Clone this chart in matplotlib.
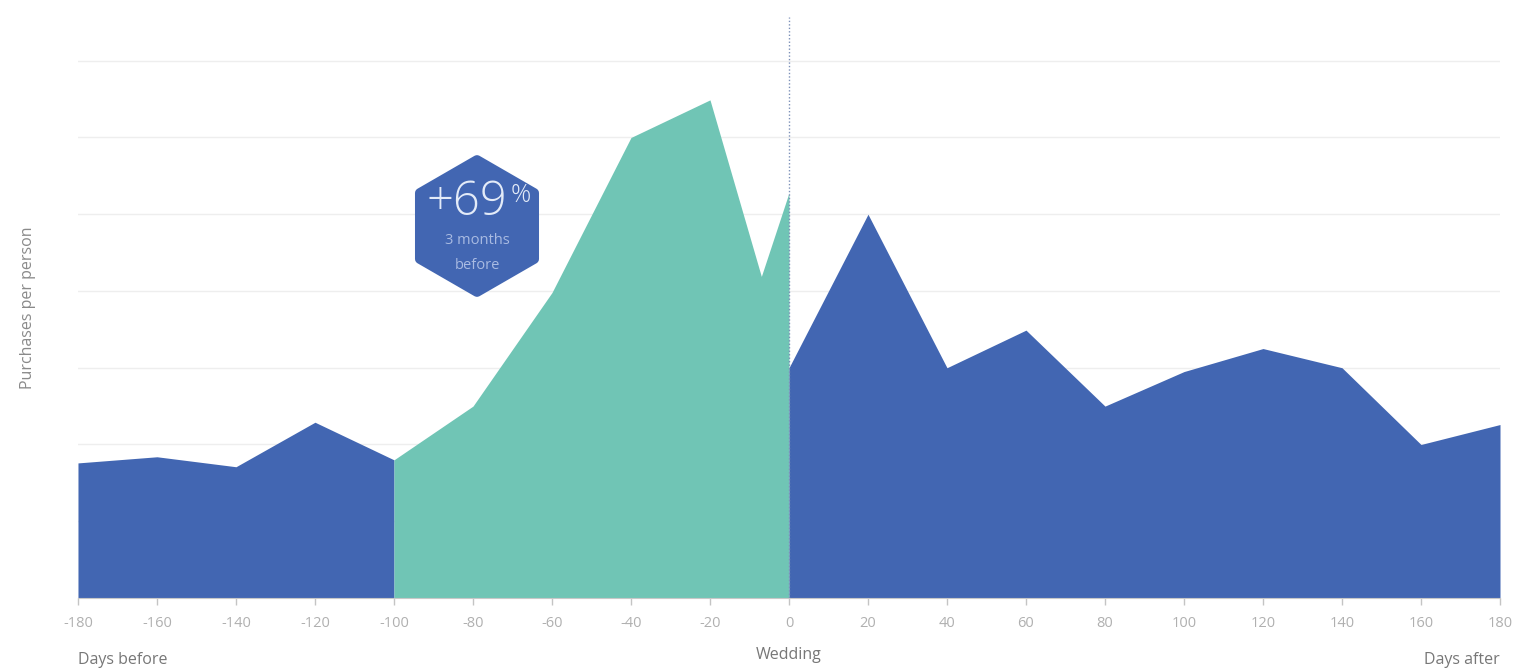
import numpy as np
import matplotlib
matplotlib.use("Agg")
import matplotlib.pyplot as plt
from matplotlib.patches import Polygon

plt.rcParams['font.family'] = ['Open Sans', 'DejaVu Sans']

# days relative to wedding and purchases per person
before_days = [-180, -160, -140, -120, -100]
before_vals = [1.76, 1.84, 1.71, 2.29, 1.80]

peak_days = [-100, -80, -60, -40, -20, -7, 0]
peak_vals = [1.80, 2.50, 3.98, 6.00, 6.49, 4.19, 5.28]

after_days = [0, 20, 40, 60, 80, 100, 120, 140, 160, 180]
after_vals = [3.00, 5.00, 3.00, 3.49, 2.50, 2.95, 3.25, 3.00, 2.00, 2.26]

tick_days = list(range(-180, 181, 20))
grid_levels = [1, 2, 3, 4, 5, 6, 7]

blue = '#4266b2'
green = '#70c5b5'

fig = plt.figure(figsize=(15.23, 6.71), dpi=100)
ax = fig.add_axes([0.0512, 0.1088, 0.9337, 0.8659])

for g in grid_levels:
    ax.axhline(g, color='#eeeeee', lw=1, zorder=0)

ax.fill_between(before_days, before_vals, 0, color=blue, lw=0, zorder=2)
ax.fill_between(peak_days, peak_vals, 0, color=green, lw=0, zorder=2)
ax.fill_between(after_days, after_vals, 0, color=blue, lw=0, zorder=2)

ax.axvline(0, color='#7c90b8', lw=1, ls=(0, (1, 1.5)), zorder=3)

ax.set_xlim(-180, 180)
ax.set_ylim(0, 7.57)
ax.set_xticks(tick_days)
ax.set_xticklabels([str(t) for t in tick_days])
ax.set_yticks([])
ax.tick_params(axis='x', colors='#c4c4c4', labelcolor='#b0b0b0', labelsize=10.5,
               length=5, width=1, pad=8)
for s in ['top', 'right', 'left']:
    ax.spines[s].set_visible(False)
ax.spines['bottom'].set_color('#c8c8c8')

ax.set_ylabel('Purchases per person', color='#8a8a8a', fontsize=11.5, labelpad=30)

fig.text(0.0512, 0.0164, 'Days before', color='#777777', fontsize=11.5, ha='left', va='center')
fig.text(0.985, 0.0164, 'Days after', color='#777777', fontsize=11.5, ha='right', va='center')
fig.text(0.518, 0.024, 'Wedding', color='#777777', fontsize=11.5, ha='center', va='center')

# hexagon badge (pixel coordinates)
cx, cy, r = 477, 671 - 226, 66
ang = np.deg2rad(90 + 60 * np.arange(6))
verts = np.column_stack([cx + r * np.cos(ang), cy + r * np.sin(ang)])
hexagon = Polygon(verts, closed=True, facecolor=blue, edgecolor=blue, lw=7,
                  joinstyle='round', transform=None, zorder=5)
fig.patches.append(hexagon)

fig.text(467 / 1523, 1 - 203 / 671, '+69', color='#e3ebf8', fontsize=34,
         fontweight='light', ha='center', va='center', zorder=6)
fig.text(521 / 1523, 1 - 196 / 671, '%', color='#e3ebf8', fontsize=18,
         fontweight='light', ha='center', va='center', zorder=6)
fig.text(477 / 1523, 1 - 240 / 671, '3 months', color='#a9bbe2', fontsize=10.5,
         ha='center', va='center', zorder=6)
fig.text(477 / 1523, 1 - 265 / 671, 'before', color='#a9bbe2', fontsize=10.5,
         ha='center', va='center', zorder=6)

fig.savefig('out.png', dpi=100)
